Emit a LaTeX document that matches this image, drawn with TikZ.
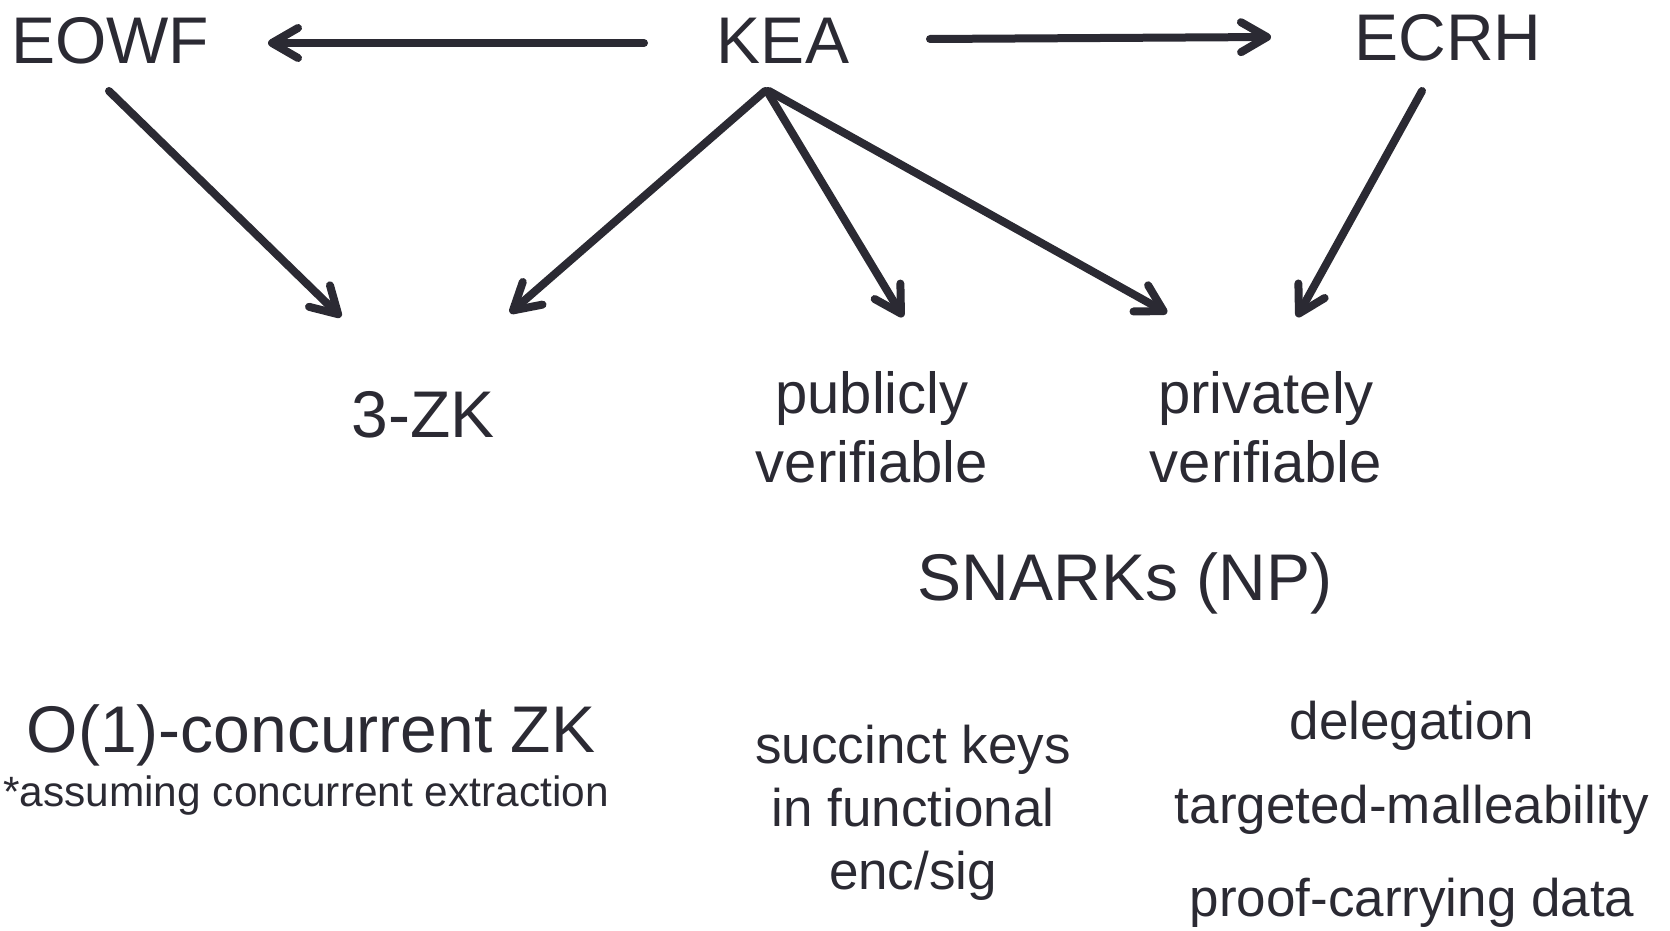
\documentclass[tikz,border=0pt]{standalone}
\usepackage{fontspec}
\setmainfont{Liberation Sans}
\usetikzlibrary{arrows.meta}
\definecolor{ink}{HTML}{2B2A33}
\tikzset{
  lbl/.style={text=ink, inner sep=0pt, anchor=base, font=\fontsize{33}{40}\selectfont},
  mid/.style={text=ink, inner sep=0pt, anchor=base, align=center, font=\fontsize{29}{34.5}\selectfont},
  low/.style={text=ink, inner sep=0pt, anchor=base, align=center, font=\fontsize{26.5}{31.5}\selectfont},
  note/.style={text=ink, inner sep=0pt, anchor=base, font=\fontsize{21.2}{25}\selectfont},
  arr/.style={draw=ink, line width=4pt, line cap=round, line join=round,
    -{Straight Barb[length=13pt, width=15pt, line cap=round, line join=round]}},
}
\begin{document}
\begin{tikzpicture}[x=0.5pt, y=-0.5pt]
\useasboundingbox (0,0) rectangle (1670,931);

% assumptions
\node[lbl] (eowf) at (110,64) {EOWF};
\node[lbl] (kea)  at (783,64) {KEA};
\node[lbl] (ecrh) at (1448,61) {ECRH};

% results (multi-line nodes sit on the baseline of their last line)
\node[lbl] (zk3)  at (423,437) {3-ZK};
\node[mid] (pub)  at (872,482) {publicly\\verifiable};
\node[mid] (priv) at (1266,482) {privately\\verifiable};
\node[lbl] (snark) at (1125,600) {SNARKs (NP)};

% applications
\node[lbl] (conc) at (311,752) {O(1)-concurrent ZK};
\node[note] (assume) at (306,806) {*assuming concurrent extraction};
\node[low] (succ) at (913,889) {succinct keys\\in functional\\enc/sig};
\node[low] (deleg) at (1412,739) {delegation};
\node[low] (malle) at (1412,823) {targeted-malleability};
\node[low] (pcd) at (1412,916) {proof-carrying data};

% implications
\draw[arr] ([shift={(-139,-21)}]kea.base) -- ([shift={(158,-21)}]eowf.base);
\draw[arr] ([shift={(147,-25)}]kea.base) -- ([shift={(-177,-24)}]ecrh.base);
\draw[arr] ([shift={(-1,27)}]eowf.base) -- ([shift={(-82,-120)}]zk3.base);
\draw[arr] ([shift={(-18,27)}]kea.base) -- ([shift={(87,-124)}]zk3.base);
\draw[arr] ([shift={(-16,27)}]kea.base) -- ([shift={(31,-165)}]pub.base);
\draw[arr] ([shift={(-14,27)}]kea.base) -- ([shift={(-99,-169)}]priv.base);
\draw[arr] ([shift={(-26,30)}]ecrh.base) -- ([shift={(31,-165)}]priv.base);
\end{tikzpicture}
\end{document}
